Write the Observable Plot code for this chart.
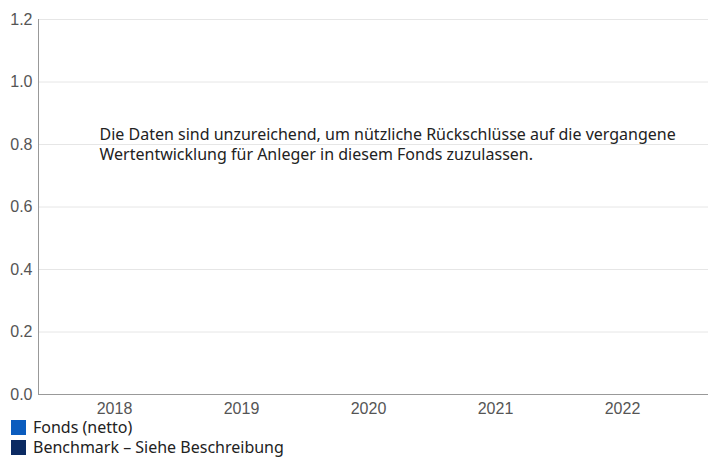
<!DOCTYPE html>
<html><head><meta charset="utf-8">
<script src="https://cdn.jsdelivr.net/npm/d3@7"></script>
<script src="https://cdn.jsdelivr.net/npm/@observablehq/plot@0.6"></script>
<style>
body{margin:0;background:#fff;}
#legend{font-family:"Noto Sans",sans-serif;font-size:16px;color:#222;margin-left:11px;margin-top:-5px;line-height:20px;}
.item{display:flex;align-items:center;height:20px;}
.sw{width:15px;height:15px;margin-right:7px;display:inline-block;}
</style></head>
<body><div id="chart"></div><div id="legend"></div>
<script>
const years = [2018, 2019, 2020, 2021, 2022];
const fondsNetto = [null, null, null, null, null];
const benchmark = [null, null, null, null, null];
const seriesNames = ["Fonds (netto)", "Benchmark – Siehe Beschreibung"];
const seriesColors = ["#0b5cbe", "#0b2a62"];
const yTicks = [0, 0.2, 0.4, 0.6, 0.8, 1.0, 1.2];
const message = ["Die Daten sind unzureichend, um nützliche Rückschlüsse auf die vergangene", "Wertentwicklung für Anleger in diesem Fonds zuzulassen."];

const rows = [];
years.forEach((yr, i) => {
  rows.push({year: yr, series: seriesNames[0], value: fondsNetto[i]});
  rows.push({year: yr, series: seriesNames[1], value: benchmark[i]});
});

const chart = Plot.plot({
  width: 709, height: 422,
  marginLeft: 38, marginRight: 1, marginTop: 19, marginBottom: 28,
  style: {fontFamily: "'Liberation Sans', Arial, sans-serif", fontSize: "16px", color: "#555"},
  x: {type: "band", domain: years, paddingInner: 0.2, paddingOuter: 0.2326, align: 0.407, label: null},
  y: {domain: [0, 1.2], label: null},
  color: {domain: seriesNames, range: seriesColors},
  marks: [
    Plot.gridY(yTicks, {stroke: "#e6e6e6", strokeOpacity: 1}),
    Plot.barY(rows.filter(d => d.value != null), {x: "year", y: "value", fill: "series"}),
    Plot.frame({anchor: "left", stroke: "#999"}),
    Plot.ruleY([0], {stroke: "#999"}),
    Plot.axisX({tickFormat: d3.format("d"), tickSize: 0, tickPadding: 8, fill: "#555", fontSize: 16, label: null}),
    Plot.axisY({ticks: yTicks, tickFormat: d3.format(".1f"), tickSize: 0, tickPadding: 6, fill: "#555", fontSize: 16, label: null}),
    Plot.text([message.join("\n")], {frameAnchor: "top-left", dx: 61, dy: 106, textAnchor: "start", lineAnchor: "top", fill: "#222", fontSize: 16, fontFamily: "'Noto Sans', sans-serif", lineHeight: 1.25})
  ]
});
document.getElementById("chart").appendChild(chart);
const lg = document.getElementById("legend");
seriesNames.forEach((n, i) => {
  const it = document.createElement("div"); it.className = "item";
  const sw = document.createElement("span"); sw.className = "sw"; sw.style.background = seriesColors[i];
  it.appendChild(sw); it.appendChild(document.createTextNode(n)); lg.appendChild(it);
});
</script></body></html>
